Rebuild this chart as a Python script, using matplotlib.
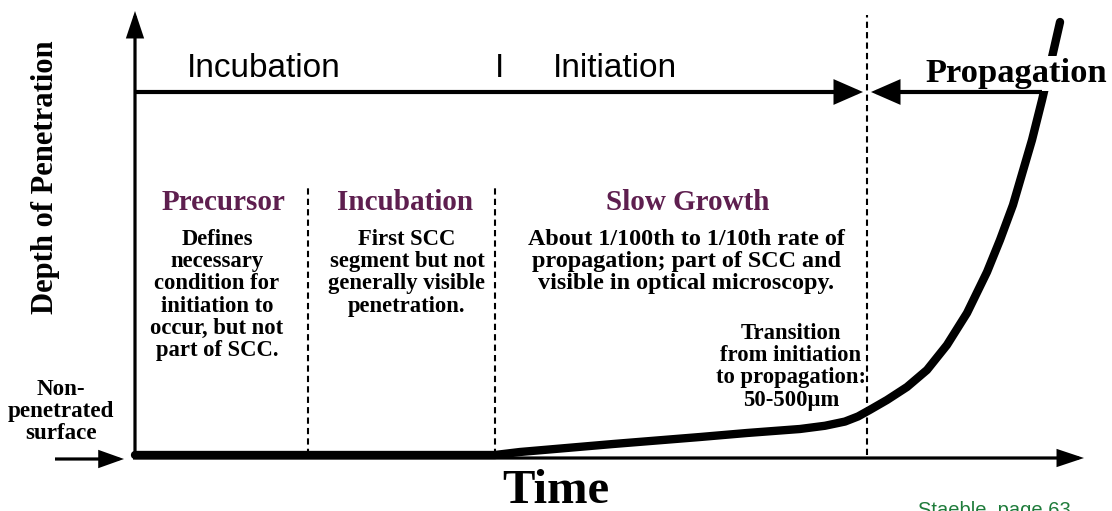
import matplotlib
matplotlib.use("Agg")
import matplotlib.pyplot as plt
from matplotlib.patches import FancyArrowPatch

# ---- data (schematic crack depth vs time) ----
time_pts = [0.0, 38.01, 40.65, 50.48, 59.66, 64.63, 70.22, 72.86, 74.97, 76.35,
            77.61, 79.41, 81.52, 83.63, 85.74, 87.86, 89.97, 91.34, 92.71, 94.72,
            95.78, 96.62, 97.68]
depth_pts = [0.0, 0.0, 0.68, 2.48, 4.06, 4.97, 5.87, 6.60, 7.55, 8.70,
             10.20, 12.42, 15.35, 19.19, 24.83, 32.05, 41.31, 48.53, 56.43, 71.11,
             80.14, 87.81, 97.74]
phase_bounds = [18.3, 38.0, 77.3]          # precursor | incubation | slow growth | propagation
section_titles = ["Precursor", "Incubation", "Slow Growth"]
section_texts = [
    ["Defines", "necessary", "condition for", "initiation to", "occur, but not", "part of SCC."],
    ["First SCC", "segment but not", "generally visible", "penetration."],
    ["About 1/100th to 1/10th rate of", "propagation; part of SCC and", "visible in optical microscopy."],
]
transition_text = ["Transition", "from initiation", "to propagation:", "50-500\u00b5m"]
surface_text = ["Non-", "penetrated", "surface"]

SERIF = "Liberation Serif"
SANS = "Liberation Sans"
PURPLE = "#5E1F4F"
GREEN = "#1E7B3A"

fig = plt.figure(figsize=(11.12, 5.11), dpi=100)
ax = fig.add_axes([0, 0, 1, 1])
X0, SX = 135.0, 9.47
Y0, SY = 455.0, 4.43
ax.set_xlim(-X0 / SX, (1112 - X0) / SX)
ax.set_ylim((Y0 - 511) / SY, Y0 / SY)
ax.axis("off")


def P(px, py):
    return ((px - X0) / SX, (Y0 - py) / SY)


def arrow(p0, p1, lw, hl, hw, z=5):
    a = FancyArrowPatch(P(*p0), P(*p1),
                        arrowstyle=f"-|>,head_length={hl},head_width={hw}",
                        mutation_scale=1, lw=lw, color="black",
                        shrinkA=0, shrinkB=0, zorder=z, joinstyle="miter",
                        capstyle="butt")
    ax.add_patch(a)


# axes arrows
arrow((135, 459), (135, 11), 2.3, 15, 5)
arrow((133, 458), (1084, 458), 2.3, 15, 5)
# phase arrows at top
arrow((135, 92), (863, 92), 3.0, 16, 7)
arrow((1042, 92), (871, 92), 3.0, 16, 7)
# non-penetrated surface arrow
arrow((55, 459), (124, 459), 2.3, 14, 5)

# dashed phase boundaries
ax.plot([phase_bounds[2]] * 2, [P(0, 455)[1], P(0, 15)[1]], color="black",
        lw=1.5, ls=(0, (3, 2)), zorder=3)
for b in phase_bounds[:2]:
    ax.plot([b, b], [P(0, 455)[1], P(0, 186)[1]], color="black",
            lw=1.5, ls=(0, (3, 2)), zorder=3)

# curve
ax.plot(time_pts, depth_pts, color="black", lw=6.0, solid_capstyle="round",
        solid_joinstyle="round", zorder=2)

# top labels
ax.text(*P(187, 77), "Incubation", family=SANS, fontsize=24, ha="left", va="baseline")
ax.text(*P(500, 77), "I", family=SANS, fontsize=24, ha="center", va="baseline")
ax.text(*P(553, 77), "Initiation", family=SANS, fontsize=24, ha="left", va="baseline")
ax.text(*P(925, 82), "Propagation", family=SERIF, fontweight="bold", fontsize=24.8,
        ha="left", va="baseline", zorder=4,
        bbox=dict(facecolor="white", edgecolor="none", pad=1.5))

# section titles and descriptions
title_x = [223, 405, 688]
body_x = [217, 407, 686]
body_size = [16.3, 16.3, 17.4]
STEP = 22.2
for tx, bx, fs, title, lines in zip(title_x, body_x, body_size, section_titles, section_texts):
    ax.text(*P(tx, 210), title, family=SERIF, fontweight="bold", fontsize=21,
            color=PURPLE, ha="center", va="baseline")
    for i, ln in enumerate(lines):
        ax.text(*P(bx, 245 + i * STEP), ln, family=SERIF, fontweight="bold",
                fontsize=fs, ha="center", va="baseline")

for i, ln in enumerate(transition_text):
    ax.text(*P(791, 339 + i * STEP), ln, family=SERIF, fontweight="bold",
            fontsize=16.3, ha="center", va="baseline")

for i, ln in enumerate(surface_text):
    ax.text(*P(61, 395 + i * STEP), ln, family=SERIF, fontweight="bold",
            fontsize=16.6, ha="center", va="baseline")

# axis titles
ax.text(*P(45, 177), "Depth of Penetration", family=SERIF, fontweight="bold",
        fontsize=22, rotation=90, ha="center", va="center")
ax.text(*P(556, 503), "Time", family=SERIF, fontweight="bold", fontsize=35,
        ha="center", va="baseline")

# source note
ax.text(*P(918, 516), "Staeble, page 63", family=SANS, fontsize=14.5,
        color=GREEN, ha="left", va="baseline")

fig.savefig("out.png", dpi=100)
